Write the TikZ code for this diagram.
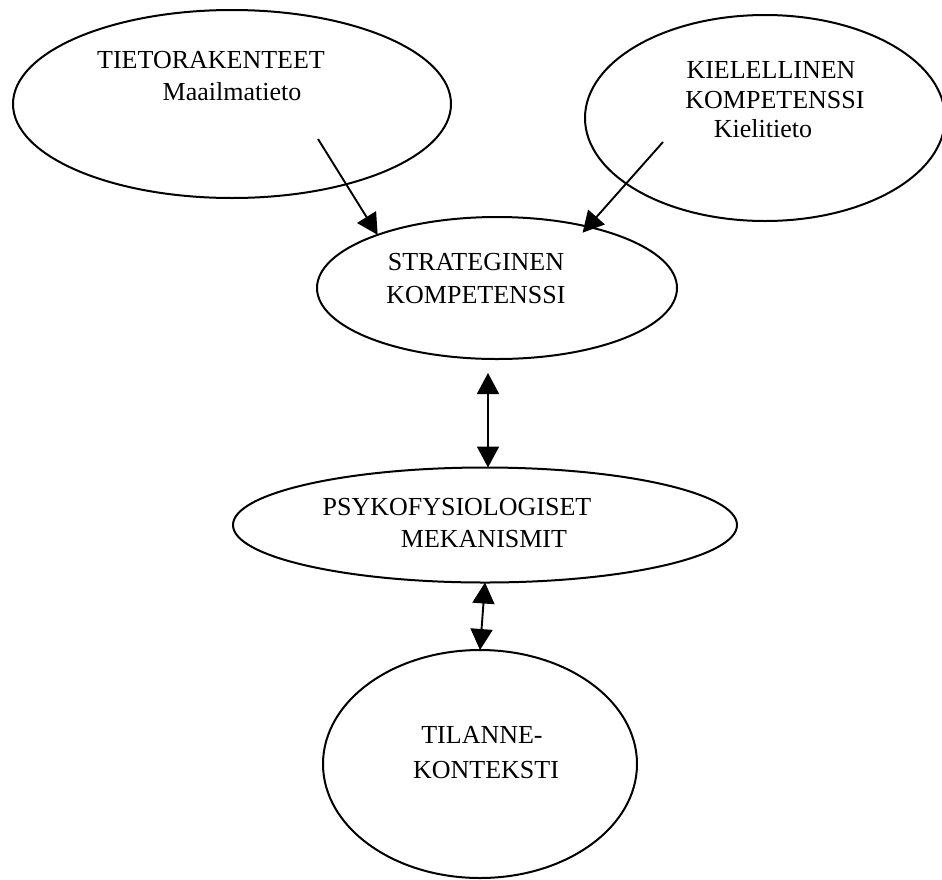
\documentclass[tikz,border=0pt]{standalone}
\usepackage{fontspec}
\setmainfont{Liberation Serif}
\usetikzlibrary{shapes.geometric,arrows.meta}
\tikzset{
  oval/.style={draw=black, line width=2pt, ellipse, inner sep=0pt, outer sep=0pt},
  lbl/.style={anchor=base, inner sep=0pt, font=\fontsize{26}{32}\selectfont},
  conn/.style={line width=1.9pt, -{Triangle[length=21pt,width=22pt]}},
  dbl/.style={line width=1.9pt, {Triangle[length=21pt,width=22pt]}-{Triangle[length=21pt,width=22pt]}}
}
\begin{document}
\begin{tikzpicture}[x=1pt,y=-1pt]
\useasboundingbox (0,0) rectangle (942,879);
% ellipses
\node[oval, minimum width=438pt, minimum height=188pt] (tieto) at (232,104) {};
\node[oval, minimum width=360pt, minimum height=206pt] (kiel) at (765,118) {};
\node[oval, minimum width=360pt, minimum height=142pt] (strat) at (497,288) {};
\node[oval, minimum width=504pt, minimum height=115pt] (psy) at (485,525) {};
\node[oval, minimum width=314pt, minimum height=228pt] (til) at (480,764) {};
% texts
\node[lbl] (t1a) at (211,68) {TIETORAKENTEET};
\node[lbl] (t1b) at (232,100) {Maailmatieto};
\node[lbl] (t2a) at (771,78) {KIELELLINEN};
\node[lbl] (t2b) at (775,108) {KOMPETENSSI};
\node[lbl] (t2c) at (763,137) {Kielitieto};
\node[lbl] (t3a) at (476,270) {STRATEGINEN};
\node[lbl] (t3b) at (476,303) {KOMPETENSSI};
\node[lbl] (t4a) at (457,515) {PSYKOFYSIOLOGISET};
\node[lbl] (t4b) at (484,547) {MEKANISMIT};
\node[lbl] (t5a) at (482,743) {TILANNE-};
\node[lbl] (t5b) at (486,778) {KONTEKSTI};
% connectors
\coordinate (a1s) at (318,139);
\coordinate (a2s) at (663,142);
\coordinate (a3s) at (488,373);
\draw[conn] (a1s) -- (strat.156);
\draw[conn, shorten >=-8pt] (a2s) -- (strat.34);
\draw[dbl] (a3s) -- (a3s |- psy.north);
\draw[dbl] (psy.south) -- (til.north);
\end{tikzpicture}
\end{document}
